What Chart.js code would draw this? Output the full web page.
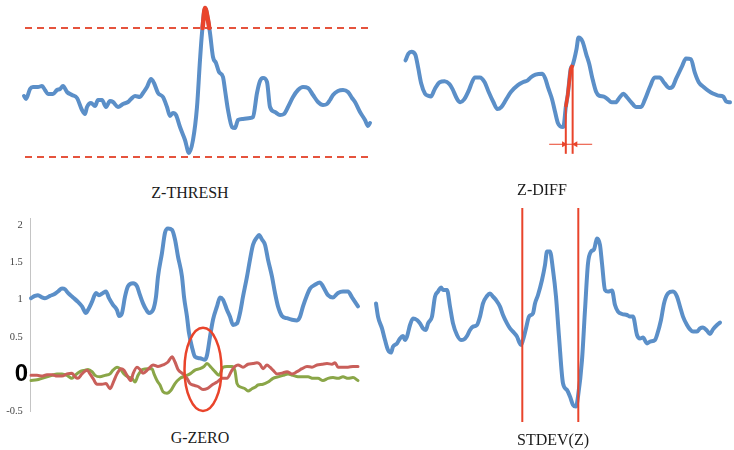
<!DOCTYPE html>
<html>
<head>
<meta charset="utf-8">
<script src="https://cdn.jsdelivr.net/npm/chart.js@4.4.1/dist/chart.umd.min.js"></script>
<style>
  body { margin: 0; background: #fff; }
  #wrap { position: relative; width: 734px; height: 450px; overflow: hidden; font-family: "Liberation Serif", "Times New Roman", serif; }
  .panel { position: absolute; }
  .caption { position: absolute; font-size: 16px; line-height: 18px; color: #1b1b1b; transform: translateX(-50%); white-space: nowrap; }
</style>
</head>
<body>
<div id="wrap">
  <div class="panel" style="left:0;top:0;width:380px;height:175px"><canvas id="zThresh"></canvas></div>
  <div class="panel" style="left:380px;top:0;width:354px;height:175px"><canvas id="zDiff"></canvas></div>
  <div class="panel" style="left:0;top:202px;width:380px;height:225px"><canvas id="gZero"></canvas></div>
  <div class="panel" style="left:370px;top:200px;width:364px;height:230px"><canvas id="stdev"></canvas></div>
  <div class="caption" style="left:190px;top:184px">Z-THRESH</div>
  <div class="caption" style="left:542px;top:181px">Z-DIFF</div>
  <div class="caption" style="left:200px;top:429px">G-ZERO</div>
  <div class="caption" style="left:553px;top:431px">STDEV(Z)</div>
</div>
<script>
// --- Z-THRESH panel: z-scored signal and the two limits
const zThreshTime = [0,2,6,9,14,18,21,24,29,33,36,39,43,48,53,58,61,63,67,71,74,78,82,86,89,94,99,104,107,111,116,119,123,127,130,134,139,143,146,149,152,156,161,165,169,173,176,178,181,184,186,189,192,195,199,201,204,208,211,214,219,226,229,233,236,239,243,246,251,256,260,264,269,274,279,284,289,294,299,303,306,309,314,319,324,328,331,336,341,344,346];
const zThreshValue = [-0.2,-0.35,0.15,0.25,0.25,0.3,0.1,-0.1,-0.1,0.1,0.15,0.3,0,-0.15,-0.3,-0.9,-1.1,-0.75,-0.55,-0.7,-0.4,-0.4,-0.75,-0.45,-0.5,-0.75,-0.6,-0.5,-0.35,-0.2,-0.25,-0.05,0.25,0.65,0.45,-0.05,-0.25,-0.75,-1.2,-1.05,-1.15,-1.75,-2.4,-3.05,-2.4,-0.75,1.6,2.95,4.2,3.6,2.95,1.75,1.45,1.0,0.75,0.1,-0.9,-1.75,-1.8,-1.4,-1.35,-1.3,-1.25,-0.05,0.55,0.7,0.5,-0.75,-1.0,-1.15,-1.1,-0.75,-0.25,0.1,0.25,0.2,-0.15,-0.5,-0.65,-0.6,-0.4,-0.15,0.05,0.1,0,-0.3,-0.5,-1.0,-1.4,-1.7,-1.55];
const zThreshLimits = [3.2, -3.25];
const zThreshSpan = [1, 346];

// --- Z-DIFF panel: signal and the two samples of the steep rise
const zDiffTime = [0,3,6,10,13,16,20,23,26,30,35,40,45,48,53,56,60,65,68,71,76,81,85,90,94,98,103,108,115,120,125,128,133,140,143,146,150,153,156,161,162,164,166,169,171,175,177,181,185,188,191,195,198,203,207,211,215,219,223,226,231,236,241,245,250,255,260,265,270,273,277,283,287,292,296,300,305,310,315,320,325,328,332];
const zDiffValue = [1.55,1.9,2.0,1.85,1.15,0.35,-0.2,-0.3,-0.35,0.05,0.4,0.45,0.3,0.05,-0.5,-0.65,-0.5,0,0.4,0.65,0.65,0.4,-0.1,-0.65,-1.0,-0.9,-0.5,-0.1,0.25,0.4,0.5,0.65,0.8,0.85,0.6,0.1,-0.5,-1.15,-1.75,-1.95,-1.85,-0.9,-0.25,1.1,1.3,2.15,2.75,2.55,1.85,1.35,0.65,-0.1,-0.3,-0.35,-0.5,-0.65,-0.65,-0.4,-0.2,-0.35,-0.65,-0.9,-0.9,-0.5,0.15,0.65,0.65,0.35,0.1,0.15,0.6,1.25,1.65,1.6,0.9,0.4,0.15,-0.05,-0.2,-0.3,-0.35,-0.6,-0.65];
const zDiffMarks = [164, 171];
const zDiffMarkBase = -3.35;
const zDiffArrowLevel = -2.85;
const zDiffArrowSpan = [147, 191];

// --- G-ZERO panel: magnitude and two gravity-removed components
const gZeroTicks = [-0.5, 0, 0.5, 1, 1.5, 2];
const gZeroBlueTime = [0,4,7,11,14,19,24,27,31,34,37,42,47,51,55,57,61,65,68,72,75,78,82,86,88,91,94,97,102,106,109,112,115,118,122,125,127,131,134,137,141,144,147,151,153,156,158,161,164,169,174,176,179,182,186,189,192,196,199,202,206,209,212,216,219,222,226,228,231,234,237,241,244,247,251,256,261,266,269,272,276,279,284,289,292,297,302,307,312,317,321,324,327];
const gZeroBlueValue = [1.02,1.05,1.06,1.03,1.02,1.05,1.08,1.11,1.15,1.14,1.09,1.03,0.97,0.91,0.82,0.86,0.97,1.09,1.06,1.09,1.11,1.02,0.93,0.86,0.78,0.82,1.04,1.18,1.22,1.18,1.06,0.95,0.87,0.82,0.86,1.04,1.31,1.63,1.90,1.96,1.94,1.81,1.58,1.31,1.04,0.77,0.55,0.36,0.23,0.21,0.19,0.25,0.5,0.73,0.91,1.03,1.0,0.86,0.77,0.66,0.68,0.82,1.04,1.31,1.54,1.74,1.84,1.87,1.81,1.74,1.54,1.31,1.09,0.91,0.78,0.75,0.73,0.72,0.77,0.91,1.06,1.15,1.2,1.23,1.18,1.06,1.03,1.09,1.11,1.11,1.03,0.97,0.91];
const gZeroRedTime = [0,6,11,16,21,26,31,36,41,44,47,51,56,59,62,66,71,75,79,83,86,90,93,96,100,102,106,109,112,117,122,127,132,137,141,144,147,152,156,159,162,167,172,176,181,186,191,196,201,204,207,212,217,222,226,229,232,236,239,242,246,251,256,261,266,271,276,281,286,291,296,301,304,307,312,317,322,327];
const gZeroRedValue = [-0.02,-0.02,-0.03,-0.01,-0.01,-0.03,-0.03,0,0.01,-0.04,-0.06,0,0.05,0,-0.06,-0.14,-0.14,-0.13,-0.2,-0.09,0,0.07,0.05,-0.02,-0.09,0,0.09,0.06,0.01,0.06,0.12,0.1,0.12,0.16,0.23,0.16,0.06,0,-0.06,-0.13,-0.15,-0.17,-0.21,-0.2,-0.15,-0.11,-0.06,-0.06,0.05,0.1,0.12,0.09,0.13,0.14,0.15,0.13,0.07,0.12,0.09,0.05,0,0.01,0.03,0,0.03,0.07,0.1,0.09,0.12,0.13,0.14,0.13,0.15,0.09,0.09,0.09,0.1,0.1];
const gZeroGreenTime = [0,6,11,16,21,26,31,36,41,44,49,54,57,61,64,69,74,79,82,86,89,93,97,101,104,107,112,117,121,123,126,129,132,136,140,144,149,154,159,164,169,173,176,180,184,188,192,196,201,204,206,210,214,217,221,224,227,232,237,242,247,252,257,262,267,272,277,282,287,292,297,302,307,312,317,322,327];
const gZeroGreenValue = [-0.09,-0.08,-0.06,-0.04,-0.02,0,0,-0.02,-0.06,-0.02,0.03,0.05,0.06,0.03,-0.02,-0.04,-0.02,0,0.05,0.09,0.07,0,-0.04,-0.06,-0.11,-0.02,0.06,0.07,0.07,0,-0.09,-0.15,-0.24,-0.26,-0.22,-0.13,-0.06,-0.03,0,0.05,0.07,0.1,0.14,0.09,0.03,-0.02,0.09,0.1,0.1,0.04,-0.13,-0.18,-0.2,-0.23,-0.2,-0.18,-0.15,-0.14,-0.11,-0.06,-0.04,-0.02,0,-0.02,-0.04,-0.04,-0.04,-0.06,-0.06,-0.09,-0.06,-0.05,-0.06,-0.04,-0.06,-0.05,-0.09];
const gZeroCircle = { time: 172, value: 0.06, halfTime: 18.5, halfValue: 0.56 };

// --- STDEV(Z) panel: signal and the window boundaries
const stdevTime = [0,2,6,9,12,15,17,21,24,27,29,31,34,37,41,44,47,50,52,56,59,62,65,67,71,74,77,81,85,88,91,94,97,101,104,107,111,114,117,120,124,127,131,134,137,141,143,145,147,150,153,157,159,162,166,169,171,174,177,180,183,187,191,194,197,200,202,206,209,212,215,218,220,221,224,226,229,232,236,239,242,246,251,254,257,261,264,267,271,274,279,281,285,288,292,297,301,304,307,311,314,317,321,324,327,331,334,337,341,344];
const stdevValue = [0.83,0.17,-0.42,-1.0,-1.5,-1.63,-1.33,-1.17,-0.92,-0.8,-1.0,-0.83,-0.25,0.08,0,-0.17,-0.42,-0.5,-0.17,0.17,1.17,1.42,1.63,1.5,1.5,0.67,-0.17,-0.75,-1.0,-0.97,-0.8,-0.5,-0.33,-0.25,0.17,0.83,1.2,1.33,1.17,1.0,0.67,0.25,-0.17,-0.42,-0.58,-0.83,-1.08,-1.25,-1.0,-0.42,0.17,0.33,0.83,1.25,2.0,2.75,3.42,3.42,2.5,1.17,-0.83,-3.17,-3.5,-3.83,-4.25,-4.33,-3.83,-2.0,0.5,2.83,3.42,3.53,3.92,4.08,3.75,2.83,1.5,1.42,1.47,0.75,0.42,0.3,0.25,0.17,0.17,-0.75,-0.92,-0.88,-1.17,-1.08,-1.0,-0.75,0,0.83,1.33,1.42,1.17,0.67,0.17,-0.25,-0.47,-0.58,-0.58,-0.42,-0.37,-0.53,-0.7,-0.47,-0.25,-0.13];
const stdevMarks = [146.3, 202.3];
const stdevMarkRange = [-5.1, 5.6];

const BLUE = '#5b8fc8';
const RED = '#e9442b';
const DASH_RED = '#e5533d';
const MUTED_RED = '#c95f5a';
const GREEN = '#8aa648';

function pts(ts, vs) {
  return ts.map((t, i) => ({ x: t, y: vs[i] }));
}

// part of the series that is above a limit, with the crossing points added
function aboveLimit(ts, vs, limit) {
  const out = [];
  for (let i = 1; i < ts.length; i++) {
    const a = vs[i - 1], b = vs[i];
    if ((a < limit) !== (b < limit)) {
      const f = (limit - a) / (b - a);
      out.push({ x: ts[i - 1] + f * (ts[i] - ts[i - 1]), y: limit });
    }
    if (b >= limit) out.push({ x: ts[i], y: b });
  }
  return out;
}

function valueAt(ts, vs, t) {
  return vs[ts.indexOf(t)];
}

function panelOptions(xMin, xMax, yMin, yMax) {
  return {
    responsive: true,
    maintainAspectRatio: false,
    animation: false,
    events: [],
    layout: { padding: 0 },
    plugins: { legend: { display: false }, tooltip: { enabled: false } },
    elements: { point: { radius: 0 } },
    scales: {
      x: { type: 'linear', display: false, min: xMin, max: xMax },
      y: { type: 'linear', display: false, min: yMin, max: yMax }
    }
  };
}

function curve(data, color, width) {
  return { data, borderColor: color, borderWidth: width, cubicInterpolationMode: 'monotone',
           borderCapStyle: 'round', borderJoinStyle: 'round', clip: false };
}

function straight(data, color, width, dash) {
  return { data, borderColor: color, borderWidth: width, borderDash: dash || [], clip: false };
}

// note: chart.js paints the first dataset on top, so lists go top -> bottom

// Z-THRESH
new Chart(document.getElementById('zThresh'), {
  type: 'line',
  data: {
    datasets: [
      curve(aboveLimit(zThreshTime, zThreshValue, zThreshLimits[0]), RED, 4.5),
      curve(pts(zThreshTime, zThreshValue), BLUE, 4),
      straight([{ x: zThreshSpan[0], y: zThreshLimits[0] }, { x: zThreshSpan[1], y: zThreshLimits[0] }], DASH_RED, 2, [7, 5]),
      straight([{ x: zThreshSpan[0], y: zThreshLimits[1] }, { x: zThreshSpan[1], y: zThreshLimits[1] }], DASH_RED, 2, [7, 5])
    ]
  },
  options: panelOptions(-24, 356, -4.15, 4.6)
});

// Z-DIFF
const diffRise = pts(zDiffTime, zDiffValue).filter(p => p.x >= zDiffMarks[0] && p.x <= zDiffMarks[1]);
new Chart(document.getElementById('zDiff'), {
  type: 'line',
  data: {
    datasets: [
      {
        data: [{ x: zDiffMarks[0] - 2, y: zDiffArrowLevel }, { x: zDiffMarks[1] + 3, y: zDiffArrowLevel }],
        showLine: false, pointStyle: 'triangle', pointRadius: 3.5, pointRotation: [90, -90],
        pointBackgroundColor: RED, pointBorderColor: RED, pointBorderWidth: 0, clip: false
      },
      straight([{ x: zDiffArrowSpan[0], y: zDiffArrowLevel }, { x: zDiffArrowSpan[1], y: zDiffArrowLevel }], RED, 1),
      ...zDiffMarks.map(m => straight([{ x: m, y: zDiffMarkBase }, { x: m, y: valueAt(zDiffTime, zDiffValue, m) }], RED, 2)),
      straight(diffRise, RED, 3.5),
      curve(pts(zDiffTime, zDiffValue), BLUE, 4)
    ]
  },
  options: panelOptions(-22, 332, -4.25, 4.5)
});

// G-ZERO
const circlePlugin = {
  id: 'circle',
  afterDatasetsDraw(chart) {
    const { ctx, scales: { x, y } } = chart;
    const cx = x.getPixelForValue(gZeroCircle.time);
    const cy = y.getPixelForValue(gZeroCircle.value);
    const rx = Math.abs(x.getPixelForValue(gZeroCircle.time + gZeroCircle.halfTime) - cx);
    const ry = Math.abs(y.getPixelForValue(gZeroCircle.value + gZeroCircle.halfValue) - cy);
    ctx.save();
    ctx.strokeStyle = RED;
    ctx.lineWidth = 2.5;
    ctx.beginPath();
    ctx.ellipse(cx, cy, rx, ry, 0, 0, Math.PI * 2);
    ctx.stroke();
    ctx.restore();
  }
};

const zeroOpts = panelOptions(-1, 349, -0.5, 2.1);
zeroOpts.layout.padding = { top: 16, bottom: 16, left: 0, right: 0 };
zeroOpts.scales.y = {
  type: 'linear',
  min: -0.5,
  max: 2.1,
  afterFit: s => { s.width = 30; },
  afterBuildTicks: s => { s.ticks = gZeroTicks.map(v => ({ value: v })); },
  grid: { display: false, drawTicks: false },
  border: { display: true, color: '#c4c4c4', width: 1 },
  ticks: {
    padding: 2,
    color: ctx => ctx.tick && ctx.tick.value === 0 ? '#000' : '#444',
    font: ctx => ctx.tick && ctx.tick.value === 0
      ? { family: 'Liberation Sans', size: 24, weight: 'bold' }
      : { family: 'Liberation Serif', size: 10.5 },
    // small labels sit a bit further from the axis than the big zero
    callback: v => v === 0 ? '0' : v + '\u2002'
  }
};
new Chart(document.getElementById('gZero'), {
  type: 'line',
  data: {
    datasets: [
      curve(pts(gZeroBlueTime, gZeroBlueValue), BLUE, 4),
      curve(pts(gZeroRedTime, gZeroRedValue), MUTED_RED, 3),
      curve(pts(gZeroGreenTime, gZeroGreenValue), GREEN, 3)
    ]
  },
  options: zeroOpts,
  plugins: [circlePlugin]
});

// STDEV(Z)
new Chart(document.getElementById('stdev'), {
  type: 'line',
  data: {
    datasets: [
      ...stdevMarks.map(m => straight([{ x: m, y: stdevMarkRange[0] }, { x: m, y: stdevMarkRange[1] }], RED, 2)),
      curve(pts(stdevTime, stdevValue), BLUE, 4)
    ]
  },
  options: panelOptions(-6, 358, -5.5, 6)
});
</script>
</body>
</html>
